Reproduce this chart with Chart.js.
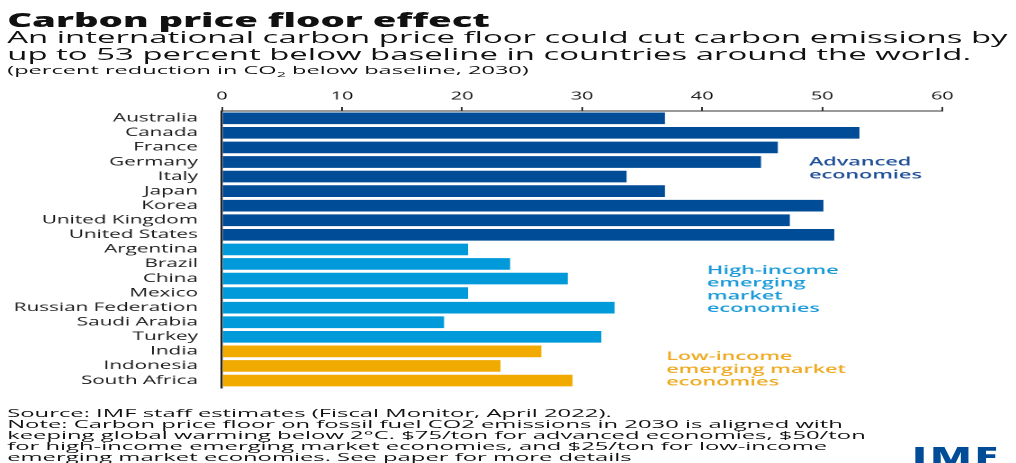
<!DOCTYPE html>
<html>
<head>
<meta charset="utf-8">
<script src="https://cdn.jsdelivr.net/npm/chart.js@4.4.1/dist/chart.umd.min.js"></script>
<style>
  html, body { margin: 0; padding: 0; background: #fff; overflow: hidden; }
  body { width: 1016px; height: 463px; position: relative; }
  /* the reference is horizontally stretched, so the page is drawn narrow and widened */
  #page {
    position: absolute; left: 0; top: 0;
    width: 564.4px; height: 463px;
    transform: scaleX(1.8); transform-origin: 0 0;
    font-family: "Open Sans", sans-serif; color: #111;
  }
  .txt { position: absolute; left: 4.4px; white-space: nowrap; transform-origin: 0 0; }
  .title { top: 10.6px; font-size: 18.5px; font-weight: 800; line-height: 18.5px; transform: scaleX(1.15); }
  .sub { top: 28.5px; font-size: 15.5px; line-height: 17px; transform: scaleX(1.18); }
  .unit { top: 64px; font-size: 11px; line-height: 11px; transform: scaleX(1.19); }
  .unit sub { font-size: 7.5px; line-height: 0; }
  .foot { top: 408px; font-size: 11.5px; line-height: 10.9px; transform: scaleX(1.15); }
  .logo { position: absolute; left: 506.7px; top: 443.7px; font-size: 24px; line-height: 24px; font-weight: 800; color: #004C97; letter-spacing: 1.6px; }
  #wrap { position: absolute; left: 0; top: 85px; width: 564px; height: 323px; }
</style>
</head>
<body>
<div id="page">
  <div class="txt title">Carbon price floor effect</div>
  <div class="txt sub">An international carbon price floor could cut carbon emissions by<br>up to 53 percent below baseline in countries around the world.</div>
  <div class="txt unit">(percent reduction in CO<sub>2</sub> below baseline, 2030)</div>
  <div id="wrap"><canvas id="carbonChart" width="564" height="323"></canvas></div>
  <div class="txt foot">Source: IMF staff estimates (Fiscal Monitor, April 2022).<br>Note: Carbon price floor on fossil fuel CO2 emissions in 2030 is aligned with<br>keeping global warming below 2°C. $75/ton for advanced economies, $50/ton<br>for high-income emerging market economies, and $25/ton for low-income<br>emerging market economies. See paper for more details</div>
  <div class="logo">IMF</div>
</div>
<script>
/// === DATA === ///
const countries = ['Australia', 'Canada', 'France', 'Germany', 'Italy', 'Japan', 'Korea',
  'United Kingdom', 'United States', 'Argentina', 'Brazil', 'China', 'Mexico',
  'Russian Federation', 'Saudi Arabia', 'Turkey', 'India', 'Indonesia', 'South Africa'];
const reductions = [36.9, 53.1, 46.3, 44.9, 33.7, 36.9, 50.1, 47.3, 51.0,
  20.5, 24.0, 28.8, 20.5, 32.7, 18.5, 31.6,
  26.6, 23.2, 29.2];
const groups = ['adv', 'adv', 'adv', 'adv', 'adv', 'adv', 'adv', 'adv', 'adv',
  'high', 'high', 'high', 'high', 'high', 'high', 'high',
  'low', 'low', 'low'];
const xTicks = [0, 10, 20, 30, 40, 50, 60];

const groupColors = { adv: '#004C97', high: '#0099DA', low: '#F0AA00' };
const textColors = { adv: '#1F4F98', high: '#1A9AD8', low: '#EDAA22' };

// group labels, placed in data space (x value, row index)
const groupNotes = [
  { group: 'adv', lines: ['Advanced', 'economies'], x: 48.9, row: 3.45 },
  { group: 'high', lines: ['High-income', 'emerging', 'market', 'economies'], x: 40.4, row: 11.76 },
  { group: 'low', lines: ['Low-income', 'emerging market', 'economies'], x: 37.0, row: 17.24 }
];

const groupLabels = {
  id: 'groupLabels',
  afterDatasetsDraw(chart) {
    const { ctx, scales: { x, y } } = chart;
    ctx.save();
    ctx.font = '600 12px "Open Sans", sans-serif';
    ctx.textBaseline = 'middle';
    ctx.textAlign = 'left';
    const step = y.getPixelForValue(1) - y.getPixelForValue(0);
    groupNotes.forEach(note => {
      const px = x.getPixelForValue(note.x);
      const cy = y.getPixelForValue(0) + note.row * step;
      const lh = 12.8;
      const start = cy - (note.lines.length - 1) * lh / 2;
      ctx.fillStyle = textColors[note.group];
      note.lines.forEach((line, i) => ctx.fillText(line, px, start + i * lh));
    });
    ctx.restore();
  }
};

/// === CHART === ///
// note: y tick padding also pads the bottom of the chart area (~20px), canvas height allows for it
new Chart(document.getElementById('carbonChart'), {
  type: 'bar',
  data: {
    labels: countries,
    datasets: [{
      label: 'Percent reduction',
      data: reductions,
      backgroundColor: groups.map(g => groupColors[g]),
      barPercentage: 0.8,
      categoryPercentage: 1
    }]
  },
  options: {
    indexAxis: 'y',
    responsive: false,
    animation: false,
    devicePixelRatio: 2,
    layout: { padding: { left: 0, right: 40.5, top: 0, bottom: 0 } },
    plugins: { legend: { display: false }, tooltip: { enabled: false } },
    scales: {
      x: {
        position: 'top',
        min: 0,
        max: 60,
        afterBuildTicks: scale => { scale.ticks = xTicks.map(v => ({ value: v })); },
        afterFit: scale => { scale.height = 26; },
        grid: { display: true, drawOnChartArea: false, drawTicks: true, tickLength: 4, color: '#333', lineWidth: 1 },
        border: { display: true, color: '#333', width: 1 },
        ticks: { color: '#111', padding: 4, font: { family: 'Open Sans', size: 11 } }
      },
      y: {
        afterFit: scale => { scale.width = 123.3; },
        grid: { display: false, drawTicks: false },
        border: { display: true, color: '#222', width: 1.2 },
        ticks: { color: '#1a1a1a', padding: 13.3, autoSkip: false, font: { family: 'Open Sans', size: 11.5 } }
      }
    }
  },
  plugins: [groupLabels]
});
</script>
</body>
</html>
